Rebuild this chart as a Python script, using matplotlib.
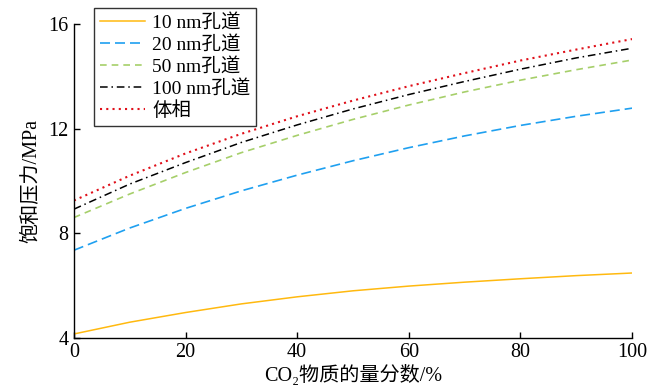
import matplotlib
matplotlib.use("Agg")
import matplotlib.pyplot as plt

plt.rcParams['font.family'] = ['Liberation Serif', 'Noto Sans CJK SC']

x = [0, 10, 20, 30, 40, 50, 60, 70, 80, 90, 100]
p10 = [4.15, 4.6, 4.97, 5.3, 5.57, 5.8, 5.98, 6.13, 6.26, 6.38, 6.48]
p20 = [7.35, 8.2, 8.95, 9.62, 10.22, 10.77, 11.27, 11.72, 12.12, 12.47, 12.78]
p50 = [8.6, 9.5, 10.32, 11.08, 11.74, 12.35, 12.9, 13.4, 13.85, 14.25, 14.62]
p100 = [8.92, 9.88, 10.7, 11.47, 12.14, 12.75, 13.3, 13.8, 14.27, 14.7, 15.07]
bulk = [9.25, 10.2, 11.05, 11.8, 12.47, 13.07, 13.62, 14.12, 14.6, 15.02, 15.42]

labels = ['10 nm孔道', '20 nm孔道', '50 nm孔道', '100 nm孔道', '体相']
xticks = [0, 20, 40, 60, 80, 100]
yticks = [4, 8, 12, 16]

fig = plt.figure(figsize=(6.66, 3.92), dpi=100)
ax = fig.add_axes([0.111, 0.138, 0.838, 0.801])

ax.plot(x, p10, color='#FFB90F', lw=1.1, ls='-', label=labels[0])
ax.plot(x, p20, color='#1FA0F0', lw=1.2, ls=(0, (6, 3)), label=labels[1])
ax.plot(x, p50, color='#A6CF6A', lw=1.2, ls=(0, (4, 3)), label=labels[2])
ax.plot(x, p100, color='#000000', lw=1.1, ls=(0, (5, 2.5, 1, 2.5)), label=labels[3])
ax.plot(x, bulk, color='#E0101A', lw=1.5, ls=(0, (1, 2)), label=labels[4])

ax.set_xlim(0, 100)
ax.set_ylim(4, 16)
ax.set_xticks(xticks)
ax.set_yticks(yticks)
for s in ['top', 'right']:
    ax.spines[s].set_visible(False)
for s in ['left', 'bottom']:
    ax.spines[s].set_linewidth(1.0)
ax.tick_params(direction='in', length=4, width=1.0, labelsize=14.5, pad=4)

ax.set_xlabel('CO₂物质的量分数/%', fontsize=14.5, labelpad=2)
ax.set_ylabel('饱和压力/MPa', fontsize=14.5, labelpad=5)

leg = ax.legend(loc='upper left', bbox_to_anchor=(94/666, 1 - 8/392), bbox_transform=fig.transFigure,
                fontsize=14, frameon=True, fancybox=False, edgecolor='black',
                borderpad=0.3, labelspacing=0.2, handlelength=2.3, handletextpad=0.4,
                borderaxespad=0)
leg.get_frame().set_linewidth(1.0)

fig.savefig('out.png', dpi=100)
